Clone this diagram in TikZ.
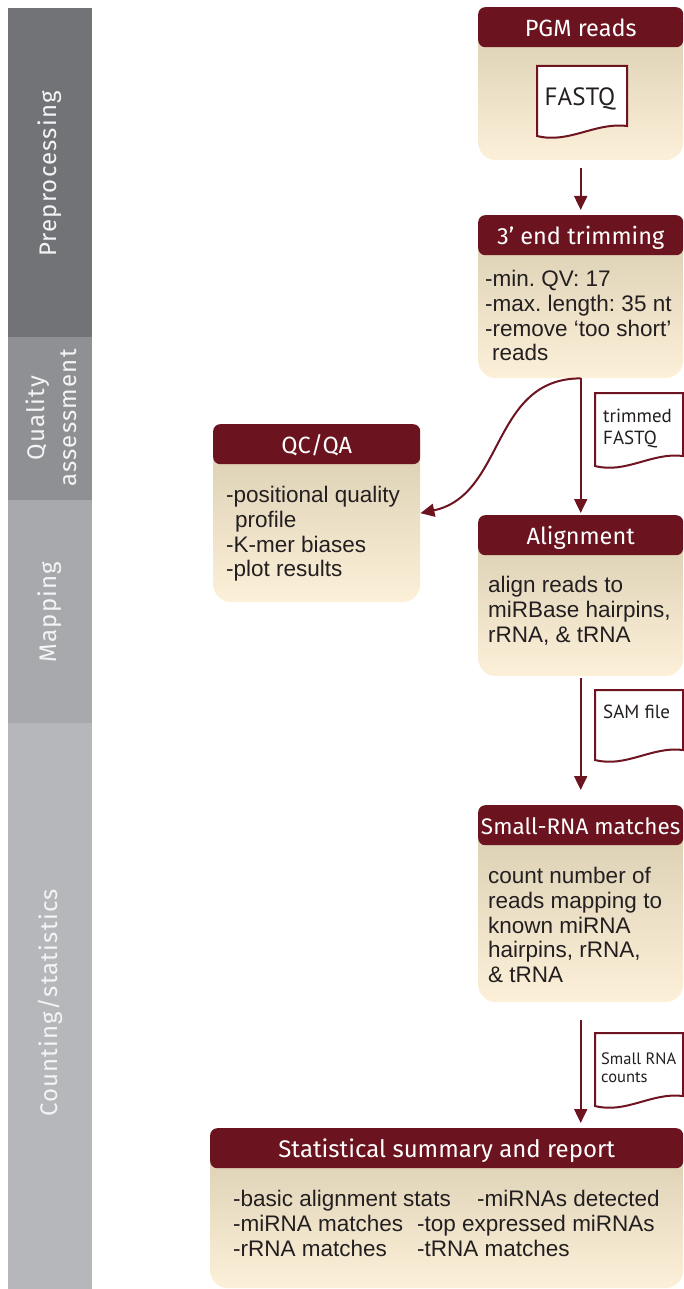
\documentclass[tikz,border=0pt]{standalone}
\usepackage{fontspec}
\setmainfont{Liberation Sans}
\newfontfamily\dinfont{PT Sans}
\newfontfamily\hdfont{Fira Sans}
\newfontfamily\lanefont{Fira Sans}[LetterSpace=5]
\usetikzlibrary{arrows.meta}
\frenchspacing

\definecolor{hdr}{HTML}{6B131E}
\definecolor{wine}{HTML}{6E1420}
\definecolor{tanTop}{HTML}{D6CBAE}
\definecolor{tanBot}{HTML}{FDF0D9}
\definecolor{barA}{HTML}{727377}
\definecolor{barB}{HTML}{8F9094}
\definecolor{barC}{HTML}{A8A9AD}
\definecolor{barD}{HTML}{B6B7BA}
\definecolor{ink}{HTML}{231F20}
\definecolor{lanetext}{HTML}{F4F4F4}

\tikzset{
  panel/.style={rectangle, rounded corners=18pt, top color=tanTop, bottom color=tanBot,
    anchor=north west, inner sep=0pt},
  banner/.style={rectangle, rounded corners=7pt, fill=hdr, text=white, anchor=north west,
    minimum height=40pt, inner sep=0pt, text height=18pt, text depth=0pt,
    font=\hdfont\fontsize{23.5}{26}\selectfont},
  bodytext/.style={anchor=north west, inner sep=0pt, align=left, text=ink,
    font=\fontsize{22.5}{24.8}\selectfont},
  flow/.style={draw=wine, line width=2pt, -{Triangle[length=14pt,width=13pt]}},
  sheet/.style={draw=wine, line width=2pt, fill=white, line join=miter},
  sheettext/.style={anchor=north west, inner sep=0pt, align=left, text=ink},
  lane/.style={text=lanetext, rotate=90, align=center, inner sep=0pt,
    font=\lanefont\fontsize{24}{32}\selectfont}
}

\begin{document}
\begin{tikzpicture}[x=1pt,y=-1pt]
\useasboundingbox (0,0) rectangle (684,1289);

% stage bar on the left
\fill[barA] (8,8) rectangle (92,337);
\fill[barB] (8,337) rectangle (92,500);
\fill[barC] (8,500) rectangle (92,723);
\fill[barD] (8,723) rectangle (92,1289);
\node[lane] (lanePre) at (50,174) {Preprocessing};
\node[lane] (laneQA) at (51,418) {Quality\\assessment};
\node[lane] (laneMap) at (50,612) {Mapping};
\node[lane] (laneCnt) at (50,1003) {Counting/statistics};

% PGM reads
\node[panel, minimum width=205pt, minimum height=153pt] (pgm) at (478,7) {};
\node[banner, minimum width=205pt] (pgmh) at (478,7) {PGM reads};
\draw[sheet] (537,66) -- (627,66) -- (627,126)
  .. controls (595,122) and (569,144) .. (537,136) -- cycle;
\node[text=ink, inner sep=0pt, font=\dinfont\fontsize{25}{28}\selectfont] (fq) at (580,99) {FASTQ};

% 3' end trimming
\node[panel, minimum width=205pt, minimum height=163pt] (trim) at (478,215) {};
\node[banner, minimum width=205pt] (trimh) at (478,215) {3’ end trimming};
\node[bodytext] (trimt) at (485,270) {-min. QV: 17\\-max. length: 35 nt\\-remove ‘too short’\\\hspace*{7pt}reads};

% QC/QA
\node[panel, minimum width=207pt, minimum height=178pt] (qc) at (213,424) {};
\node[banner, minimum width=207pt] (qch) at (213,424) {QC/QA};
\node[bodytext] (qct) at (226,486) {-positional quality\\\hspace*{9pt}profile\\-K-mer biases\\-plot results};

% Alignment
\node[panel, minimum width=205pt, minimum height=161pt] (align) at (478,515) {};
\node[banner, minimum width=205pt] (alignh) at (478,515) {Alignment};
\node[bodytext] (alignt) at (488,576) {align reads to\\miRBase hairpins,\\rRNA, \& tRNA};

% Small-RNA matches
\node[panel, minimum width=205pt, minimum height=197pt] (small) at (478,805) {};
\node[banner, minimum width=205pt, font=\hdfont\fontsize{22.5}{26}\selectfont] (smallh) at (478,805) {Small-RNA matches};
\node[bodytext] (smallt) at (488,867) {count number of\\reads mapping to\\known miRNA\\hairpins, rRNA,\\\& tRNA};

% Statistical summary and report
\node[panel, minimum width=473pt, minimum height=160pt] (stats) at (210,1128) {};
\node[banner, minimum width=473pt, font=\hdfont\fontsize{24}{26}\selectfont] (statsh) at (210,1128) {Statistical summary and report};
\node[bodytext] (st1) at (233,1190) {-basic alignment stats\\-miRNA matches\\-rRNA matches};
\node[bodytext] (st2) at (477,1190) {-miRNAs detected};
\node[bodytext] (st3) at (417,1215) {-top expressed miRNAs\\-tRNA matches};

% intermediate files
\draw[sheet] (595,393) -- (683,393) -- (683,456)
  .. controls (652,452) and (626,474) .. (595,466) -- cycle;
\node[sheettext, font=\dinfont\fontsize{19}{22}\selectfont] (tfq) at (603,409) {trimmed\\FASTQ};
\draw[sheet] (595,690) -- (683,690) -- (683,750)
  .. controls (652,746) and (626,768) .. (595,760) -- cycle;
\node[sheettext, font=\dinfont\fontsize{19}{22}\selectfont] (sam) at (603,705) {SAM file};
\draw[sheet] (595,1033) -- (683,1033) -- (683,1096)
  .. controls (652,1092) and (626,1114) .. (595,1106) -- cycle;
\node[sheettext, font=\dinfont\fontsize{16.5}{18}\selectfont] (cnt) at (601,1053) {Small RNA\\counts};

% flow arrows
\draw[flow, shorten <=8pt, shorten >=5pt] (pgm.south) -- (trim.north);
\draw[flow, shorten >=2pt] (trim.south) -- (align.north);
\draw[flow] (trim.south) .. controls +(-90,0) and +(85,-18) .. (qc.east);
\draw[flow, shorten <=2pt, shorten >=15pt] (align.south) -- (small.north);
\draw[flow, shorten <=18pt, shorten >=5pt] (small.south) -- (small.south |- stats.north);
\end{tikzpicture}
\end{document}
